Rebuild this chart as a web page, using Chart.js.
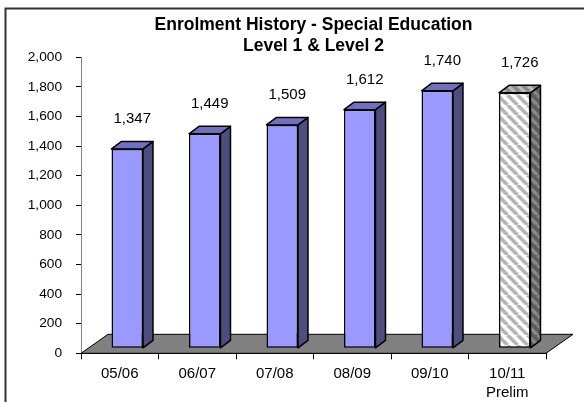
<!DOCTYPE html>
<html><head><meta charset="utf-8">
<script src="https://cdn.jsdelivr.net/npm/chart.js@4.4.0/dist/chart.umd.min.js"></script>
<style>html,body{margin:0;padding:0;background:#fff;}#wrap{width:584px;height:402px;position:relative}</style>
</head><body><div id="wrap"><canvas id="c" width="584" height="402"></canvas></div>
<script>
const categories = ['05/06', '06/07', '07/08', '08/09', '09/10', ['10/11', 'Prelim']];
const enrolment = [1347, 1449, 1509, 1612, 1740, 1726];
const yMin = 0, yMax = 2000, yStep = 200;
const titleLines = ['Enrolment History - Special Education', 'Level 1 & Level 2'];
const FONT = '"Liberation Sans", Arial, sans-serif';

// geometry of the pseudo-3D look
const FRONT_OX = 7.5, FRONT_OY = -5;   // bar front face offset from floor front edge
const BAR_DX = 10, BAR_DY = -7.5;       // bar depth
const FLOOR_DX = 27, FLOOR_DY = -19;    // floor depth
const LABEL_GAP = 26;

function stripePattern(bg, fg, lw) {
  const s = 10;
  const c = document.createElement('canvas');
  c.width = s; c.height = s;
  const g = c.getContext('2d');
  g.fillStyle = bg; g.fillRect(0, 0, s, s);
  g.strokeStyle = fg; g.lineWidth = lw;
  g.beginPath();
  for (let k = -1; k <= 1; k++) { g.moveTo(k * s, 0); g.lineTo(k * s + s, s); }
  g.stroke();
  return g.createPattern(c, 'repeat');
}
const ctx = document.getElementById('c').getContext('2d');
const patFront = stripePattern('#ffffff', '#b3b3b3', 3.6);
const patSide = stripePattern('#5c5c5c', '#8c8c8c', 3.2);
const patTop = stripePattern('#8a8a8a', '#bdbdbd', 3.2);

const frontColors = enrolment.map((v, i) => i === enrolment.length - 1 ? patFront : '#9999FF');
const sideColors = enrolment.map((v, i) => i === enrolment.length - 1 ? patSide : '#4D4D80');
const topColors = enrolment.map((v, i) => i === enrolment.length - 1 ? patTop : '#7070C0');

const frame = {
  id: 'frame',
  beforeDraw(chart) {
    const c = chart.ctx;
    c.save();
    c.fillStyle = '#fff'; c.fillRect(0, 0, chart.width, chart.height);
    c.strokeStyle = '#333'; c.lineWidth = 2;
    c.strokeRect(5.5, 8.5, chart.width + 10, chart.height + 10);
    c.restore();
  }
};

const threeD = {
  id: 'threeD',
  beforeDatasetsDraw(chart) {
    const c = chart.ctx, xs = chart.scales.x, ys = chart.scales.y;
    const y0 = ys.getPixelForValue(0);
    c.save();
    c.beginPath();
    c.moveTo(xs.left, y0);
    c.lineTo(xs.right, y0);
    c.lineTo(xs.right + FLOOR_DX, y0 + FLOOR_DY);
    c.lineTo(xs.left + FLOOR_DX, y0 + FLOOR_DY);
    c.closePath();
    c.fillStyle = '#808080'; c.fill();
    c.strokeStyle = '#000'; c.lineWidth = 1; c.stroke();
    c.restore();
    c.save();
    c.translate(FRONT_OX, FRONT_OY);
  },
  afterDatasetsDraw(chart) {
    const c = chart.ctx;
    const meta = chart.getDatasetMeta(0);
    meta.data.forEach((el, i) => {
      const p = el.getProps(['x', 'y', 'base', 'width'], true);
      const l = p.x - p.width / 2, r = p.x + p.width / 2;
      c.lineWidth = 1.5; c.strokeStyle = '#000'; c.lineJoin = 'round';
      // side
      c.beginPath();
      c.moveTo(r, p.y); c.lineTo(r + BAR_DX, p.y + BAR_DY);
      c.lineTo(r + BAR_DX, p.base + BAR_DY); c.lineTo(r, p.base); c.closePath();
      c.fillStyle = sideColors[i]; c.fill(); c.stroke();
      // top
      c.beginPath();
      c.moveTo(l, p.y); c.lineTo(l + BAR_DX, p.y + BAR_DY);
      c.lineTo(r + BAR_DX, p.y + BAR_DY); c.lineTo(r, p.y); c.closePath();
      c.fillStyle = topColors[i]; c.fill(); c.stroke();
    });
    c.restore();
    c.save();
    c.font = '15px ' + FONT; c.fillStyle = '#000';
    c.textAlign = 'center'; c.textBaseline = 'alphabetic';
    meta.data.forEach((el, i) => {
      const v = chart.data.datasets[0].data[i];
      c.fillText(v.toLocaleString('en-US'), el.x + FRONT_OX + BAR_DX / 2, el.y + FRONT_OY - LABEL_GAP);
    });
    c.restore();
  }
};

new Chart(ctx, {
  type: 'bar',
  data: {
    labels: categories,
    datasets: [{
      data: enrolment,
      backgroundColor: frontColors,
      borderColor: '#000',
      borderWidth: 1.5,
      borderSkipped: false,
      barPercentage: 0.406,
      categoryPercentage: 1,
      clip: false
    }]
  },
  options: {
    responsive: false,
    animation: false,
    devicePixelRatio: 1,
    layout: { padding: { left: 0, right: 38, top: 0, bottom: 0 } },
    plugins: {
      legend: { display: false },
      tooltip: { enabled: false },
      title: {
        display: true,
        fullSize: false,
        text: titleLines,
        color: '#000',
        font: { family: FONT, size: 17.5, weight: 'bold', lineHeight: 1.2086 },
        padding: { top: 14.8, bottom: 0.2 }
      }
    },
    scales: {
      x: {
        grid: { offset: true, drawOnChartArea: false, drawTicks: true, tickLength: 6, color: '#000' },
        border: { display: true, color: '#000' },
        ticks: { color: '#000', font: { family: FONT, size: 15, lineHeight: 1.27 }, padding: 5, maxRotation: 0, autoSkip: false },
        afterFit(s) { s.height = 48.7; }
      },
      y: {
        min: yMin, max: yMax,
        grid: { drawOnChartArea: false, drawTicks: true, tickLength: 5, color: '#000' },
        border: { display: true, color: '#808080' },
        ticks: { stepSize: yStep, color: '#000', font: { family: FONT, size: 13.7 }, padding: 14 },
        afterFit(s) { s.width = 81; }
      }
    }
  },
  plugins: [frame, threeD]
});
</script></body></html>
